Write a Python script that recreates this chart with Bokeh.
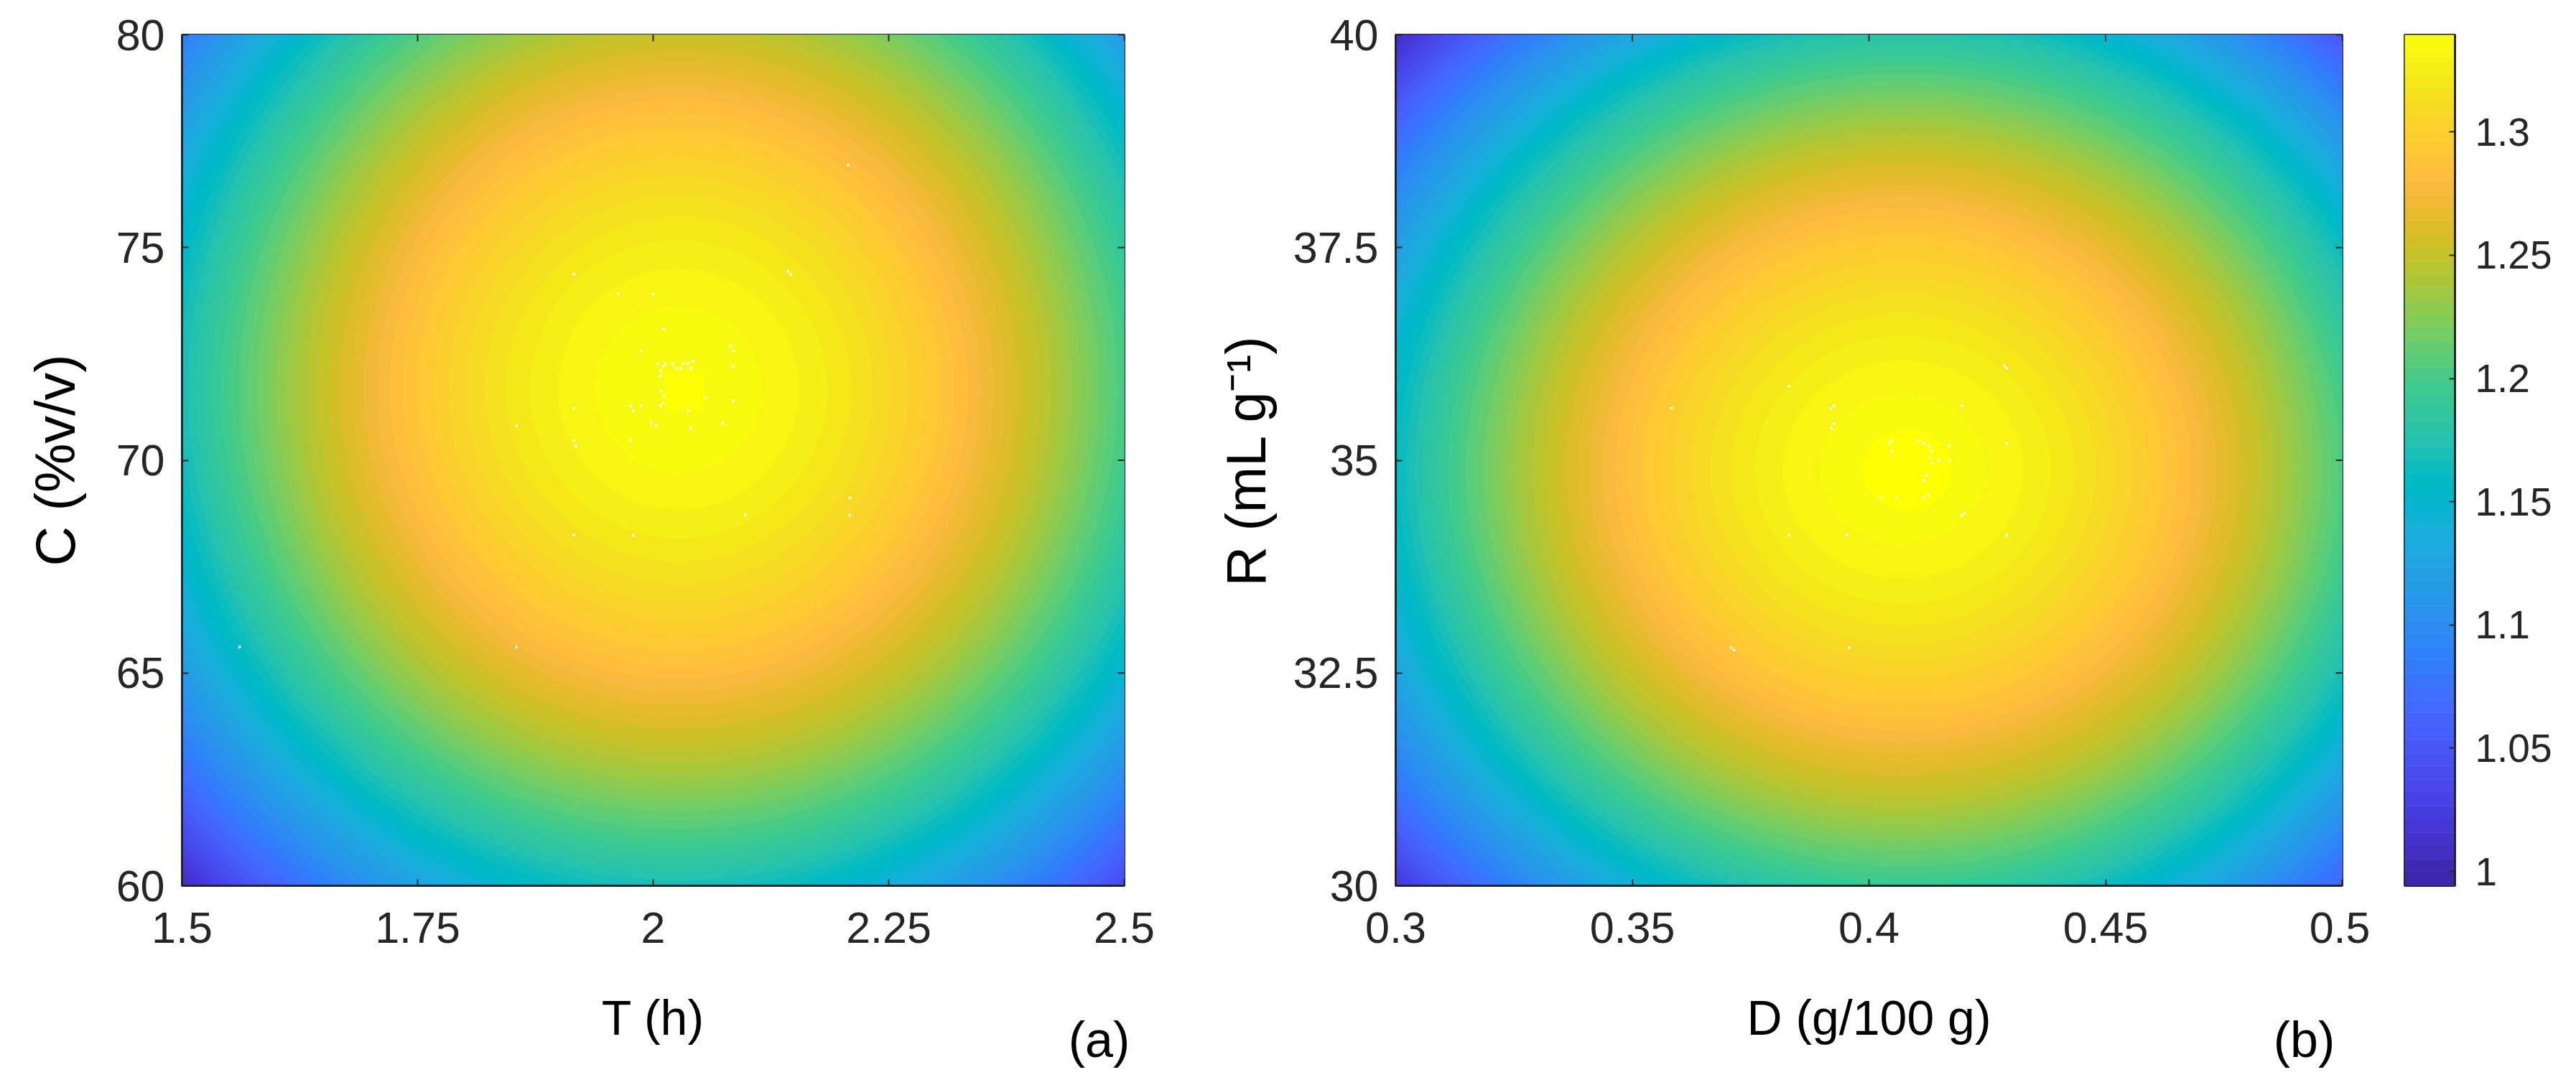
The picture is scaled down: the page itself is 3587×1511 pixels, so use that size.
from math import pi
from bokeh.plotting import figure
from bokeh.layouts import row
from bokeh.models import FixedTicker, Label, Range1d
from bokeh.embed import file_html
from bokeh.resources import INLINE

PARULA_RGB = [
 (.2422,.1504,.6603),(.2504,.1650,.7076),(.2578,.1818,.7511),(.2647,.1978,.7952),(.2706,.2147,.8364),
 (.2751,.2342,.8710),(.2783,.2559,.8991),(.2803,.2782,.9221),(.2813,.3006,.9414),(.2810,.3228,.9579),
 (.2795,.3447,.9717),(.2760,.3667,.9829),(.2699,.3892,.9906),(.2602,.4123,.9952),(.2440,.4358,.9988),
 (.2206,.4603,.9973),(.1963,.4847,.9892),(.1834,.5074,.9798),(.1786,.5289,.9682),(.1764,.5499,.9520),
 (.1687,.5703,.9359),(.1540,.5902,.9218),(.1460,.6091,.9079),(.1380,.6276,.8973),(.1248,.6459,.8883),
 (.1113,.6635,.8763),(.0952,.6798,.8598),(.0689,.6948,.8394),(.0297,.7082,.8163),(.0036,.7203,.7917),
 (.0067,.7312,.7660),(.0433,.7411,.7394),(.0964,.7500,.7120),(.1408,.7584,.6842),(.1717,.7670,.6554),
 (.1938,.7758,.6251),(.2161,.7843,.5923),(.2470,.7918,.5567),(.2906,.7973,.5188),(.3406,.8008,.4789),
 (.3909,.8029,.4354),(.4456,.8024,.3909),(.5044,.7993,.3480),(.5616,.7942,.3045),(.6174,.7876,.2612),
 (.6720,.7793,.2227),(.7242,.7698,.1910),(.7738,.7598,.1646),(.8203,.7498,.1535),(.8634,.7406,.1596),
 (.9035,.7330,.1774),(.9393,.7288,.2100),(.9728,.7298,.2394),(.9956,.7434,.2371),(.9970,.7659,.2199),
 (.9952,.7861,.1991),(.9892,.8086,.1778),(.9786,.8299,.1566),(.9676,.8545,.1386),(.9610,.8807,.1147),
 (.9597,.9066,.0950),(.9628,.9373,.0823),(.9691,.9606,.0667),(.9763,.9831,.0538),
]
PARULA = ["#%02x%02x%02x" % tuple(round(c * 255) for c in rgb) for rgb in PARULA_RGB]
CLIM = (0.9942, 1.3394)
CBAR_TICKS = [1, 1.05, 1.1, 1.15, 1.2, 1.25, 1.3]
CBAR_LABELS = {1: "1", 1.05: "1.05", 1.1: "1.1", 1.15: "1.15", 1.2: "1.2", 1.25: "1.25", 1.3: "1.3"}

T_RANGE = (1.5, 2.5)
C_RANGE = (60, 80)
T_TICKS = [1.5, 1.75, 2, 2.25, 2.5]
T_LABELS = {1.5: "1.5", 1.75: "1.75", 2: "2", 2.25: "2.25", 2.5: "2.5"}
C_TICKS = [60, 65, 70, 75, 80]

D_RANGE = (0.3, 0.5)
R_RANGE = (30, 40)
D_TICKS = [0.3, 0.35, 0.4, 0.45, 0.5]
D_LABELS = {0.3: "0.3", 0.35: "0.35", 0.4: "0.4", 0.45: "0.45", 0.5: "0.5"}
R_TICKS = [30, 32.5, 35, 37.5, 40]
R_LABELS = {30: "30", 32.5: "32.5", 35: "35", 37.5: "37.5", 40: "40"}

# Contour of each colour level (full extent across its centre)
CENTRE_A = (2.027, 71.67)
WIDTH_A = [1.518,1.505,1.493,1.480,1.467,1.454,1.441,1.428,1.415,1.402,
           1.389,1.375,1.362,1.348,1.334,1.320,1.306,1.292,1.278,1.263,
           1.248,1.234,1.219,1.204,1.188,1.173,1.157,1.142,1.125,1.109,
           1.093,1.076,1.059,1.042,1.025,1.007,.989,.971,.952,.933,
           .914,.894,.874,.854,.833,.811,.790,.767,.743,.719,
           .694,.669,.642,.614,.585,.555,.522,.488,.451,.411,
           .367,.316,.256,.178]
HEIGHT_A = [33.67,33.39,33.12,32.83,32.55,32.26,31.97,31.68,31.39,31.10,
            30.81,30.50,30.20,29.90,29.59,29.29,28.97,28.66,28.34,28.02,
            27.69,27.36,27.03,26.70,26.36,26.01,25.67,25.32,24.96,24.61,
            24.24,23.87,23.50,23.11,22.73,22.34,21.94,21.54,21.12,20.70,
            20.27,19.84,19.39,18.94,18.48,18.00,17.51,17.01,16.49,15.95,
            15.40,14.84,14.24,13.63,12.98,12.30,11.59,10.82,10.01,9.12,
            8.13,7.02,5.68,3.95]
CENTRE_B = (0.4072, 34.89)
WIDTH_B = [.3008,.2983,.2958,.2932,.2907,.2881,.2856,.2830,.2804,.2778,
           .2752,.2725,.2698,.2671,.2643,.2616,.2588,.2560,.2531,.2502,
           .2474,.2444,.2415,.2385,.2354,.2323,.2293,.2262,.2230,.2198,
           .2165,.2132,.2099,.2065,.2030,.1995,.1960,.1924,.1886,.1849,
           .1811,.1772,.1732,.1692,.1651,.1608,.1564,.1519,.1473,.1425,
           .1376,.1325,.1272,.1217,.1159,.1099,.1035,.0967,.0894,.0814,
           .0726,.0627,.0507,.0353]
HEIGHT_B = [15.18,15.05,14.93,14.80,14.67,14.54,14.41,14.28,14.15,14.02,
            13.89,13.75,13.62,13.48,13.34,13.20,13.06,12.92,12.78,12.63,
            12.48,12.34,12.19,12.04,11.88,11.73,11.57,11.42,11.25,11.09,
            10.93,10.76,10.59,10.42,10.25,10.07,9.89,9.71,9.52,9.33,
            9.14,8.94,8.74,8.54,8.33,8.11,7.90,7.67,7.43,7.19,
            6.94,6.69,6.42,6.14,5.85,5.55,5.22,4.88,4.51,4.11,
            3.67,3.16,2.56,1.78]

# White specks in the surfaces
SPECK_T = [1.916,1.963,2.000,2.143,2.146,2.011,1.987,2.082,2.085,2.042,2.005,2.013,2.021,2.032,2.037,2.011,2.024,2.029,2.040,2.008,
           2.008,2.085,2.008,2.011,2.056,2.085,2.011,1.976,1.987,2.008,1.916,1.979,2.037,1.998,2.003,2.074,2.040,1.855,1.916,1.976,
           1.918,2.209,2.098,2.209,1.916,1.979,1.855,1.561,2.207]
SPECK_C = [74.37,73.91,73.91,74.44,74.37,73.09,72.57,72.69,72.57,72.33,72.27,72.27,72.27,72.27,72.27,72.21,72.16,72.16,72.16,72.10,
           71.99,72.21,71.63,71.52,71.46,71.40,71.34,71.28,71.28,71.28,71.22,71.16,71.16,70.87,70.81,70.87,70.76,70.81,70.46,70.46,
           70.34,69.11,68.71,68.71,68.24,68.24,65.61,65.61,76.94]
SPECK_D = [.4286,.4291,.3831,.3583,.3926,.3921,.4196,.3926,.3921,.4048,.4043,.4106,.4116,.4127,.4170,.4291,.4048,.4133,
           .4127,.4148,.4170,.4133,.4122,.4116,.4127,.4026,.4058,.4116,.4202,.4196,.3831,.3953,.4291,.3709,.3715,.3958]
SPECK_R = [36.11,36.08,35.87,35.61,35.64,35.61,35.64,35.43,35.38,35.23,35.20,35.23,35.20,35.17,35.17,35.20,35.11,35.11,
           35.03,35.00,35.00,34.97,34.82,34.76,34.59,34.56,34.56,34.56,34.38,34.35,34.12,34.12,34.12,32.80,32.77,32.80]

INK = "#262626"
FONT = "Liberation Sans"


def panel(centre, widths, heights, xr, yr, xticks, xlabels, yticks, ylabels, xtitle, ytitle, tag, tag_x, tag_y,
          width, left, frame_w, right, ytitle_standoff):
    p = figure(width=width, height=1495, output_backend="svg", toolbar_location=None,
               x_range=Range1d(*xr), y_range=Range1d(*yr), frame_width=frame_w, frame_height=1185,
               min_border_left=left, min_border_right=right, min_border_top=48, min_border_bottom=262,
               background_fill_color=PARULA[0], outline_line_color=INK, outline_line_width=3)
    p.grid.visible = False
    n = len(PARULA)
    p.ellipse(x=[centre[0]] * n, y=[centre[1]] * n, width=widths, height=heights,
              fill_color=PARULA, line_color=None)
    for ax, ticks, labels in ((p.xaxis[0], xticks, xlabels), (p.yaxis[0], yticks, ylabels)):
        ax.ticker = FixedTicker(ticks=ticks)
        if labels:
            ax.major_label_overrides = labels
        ax.major_tick_in = 9
        ax.major_tick_out = 0
        ax.minor_tick_line_color = None
        ax.major_tick_line_color = INK
        ax.major_tick_line_width = 2
        ax.axis_line_color = INK
        ax.axis_line_width = 3
        ax.major_label_text_font = FONT
        ax.major_label_text_font_size = "61px"
        ax.major_label_text_color = INK
        ax.axis_label_text_font = FONT
        ax.axis_label_text_font_style = "normal"
        ax.axis_label_text_color = "#000000"
    p.xaxis[0].major_label_standoff = 37
    p.yaxis[0].major_label_standoff = 24
    p.xaxis[0].axis_label = xtitle
    p.xaxis[0].axis_label_text_font_size = "68px"
    p.xaxis[0].axis_label_standoff = 63
    p.yaxis[0].axis_label = ytitle
    p.yaxis[0].axis_label_text_font_size = "77px"
    p.yaxis[0].axis_label_standoff = ytitle_standoff
    # mirrored inward ticks on the top and right edges (half of each dash is clipped by the frame)
    p.scatter(x=xticks, y=[yr[1]] * len(xticks), marker="dash", size=18, angle=pi / 2,
              line_color=INK, line_width=2)
    p.scatter(x=[xr[1]] * len(yticks), y=yticks, marker="dash", size=18, line_color=INK, line_width=2)
    # A label in a side panel is not clipped to the frame
    p.add_layout(Label(x=tag_x, y=tag_y, x_units="canvas", y_units="canvas", text=tag, text_font=FONT,
                       text_font_size="70px", text_color="#000000",
                       text_align="center", text_baseline="alphabetic"), "below")
    return p


pa = panel(CENTRE_A, WIDTH_A, HEIGHT_A, T_RANGE, C_RANGE, T_TICKS, T_LABELS, C_TICKS, None,
           "T (h)", "C (%v/v)", "(a)", 1530, 1447, 1680, 253, 1312, 115, 39)
pb = panel(CENTRE_B, WIDTH_B, HEIGHT_B, D_RANGE, R_RANGE, D_TICKS, D_LABELS, R_TICKS, R_LABELS,
           "D (g/100 g)", "R (mL g\u207b\u00b9)", "(b)", 1528, 1447, 1620, 263, 1318, 39, 20)

# pure-yellow centre patches
pa.quad(left=[2.012], right=[2.054], bottom=[71.18], top=[72.10], fill_color="#ffff00", line_color=None)
pb.ellipse(x=[0.408], y=[34.89], width=[0.0188], height=[0.94], fill_color="#ffff00", line_color=None)
pa.scatter(SPECK_T, SPECK_C, marker="square", size=3.5, fill_color="#ffffff", line_color=None)
pb.scatter(SPECK_D, SPECK_R, marker="square", size=3.5, fill_color="#ffffff", line_color=None)

# colour bar
cb = figure(width=279, height=1495, output_backend="svg", toolbar_location=None,
            x_range=Range1d(0, 1), y_range=Range1d(*CLIM), frame_width=70, frame_height=1185,
            min_border_left=48, min_border_right=161, min_border_top=48, min_border_bottom=262,
            x_axis_location=None, y_axis_location="right",
            outline_line_color=INK, outline_line_width=3)
cb.grid.visible = False
n = len(PARULA)
step = (CLIM[1] - CLIM[0]) / n
cb.quad(left=[0] * n, right=[1] * n,
        bottom=[CLIM[0] + i * step for i in range(n)], top=[CLIM[0] + (i + 1) * step for i in range(n)],
        fill_color=PARULA, line_color=PARULA, line_width=0.5)
ax = cb.yaxis[0]
ax.ticker = FixedTicker(ticks=CBAR_TICKS)
ax.major_label_overrides = CBAR_LABELS
ax.major_tick_in = 8
ax.major_tick_out = 0
ax.minor_tick_line_color = None
ax.major_tick_line_color = INK
ax.major_tick_line_width = 2
ax.axis_line_color = INK
ax.axis_line_width = 3
ax.major_label_text_font = FONT
ax.major_label_text_font_size = "55px"
ax.major_label_text_color = INK
ax.major_label_standoff = 28

open("out.html", "w").write(file_html(row(pa, pb, cb, spacing=0), INLINE))
